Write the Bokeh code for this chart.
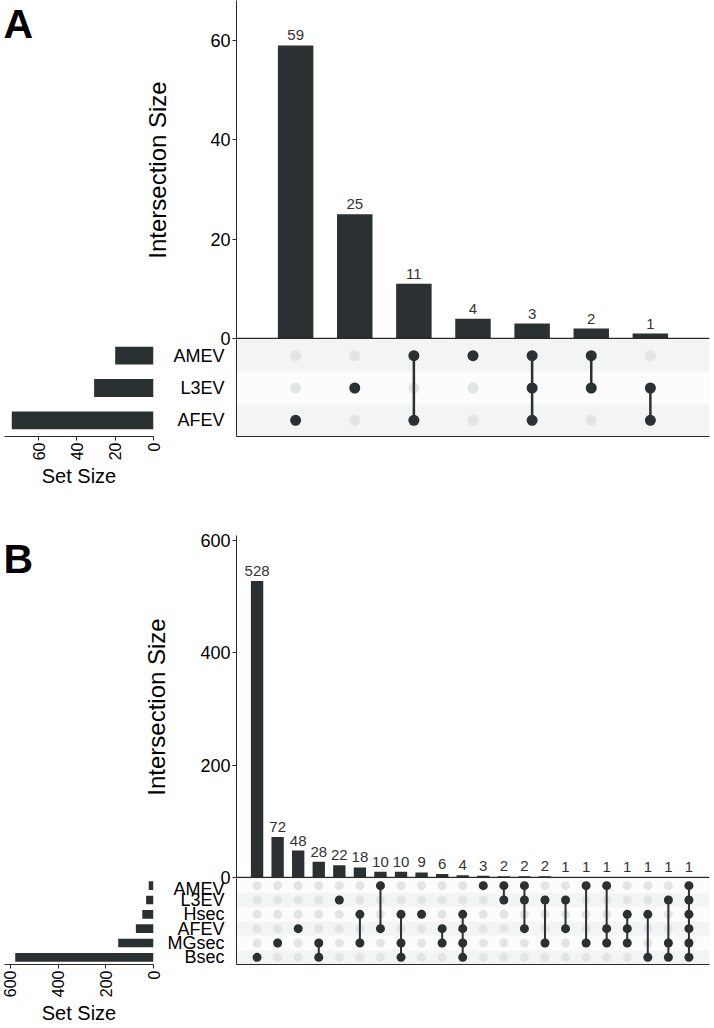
import math
from bokeh.plotting import figure
from bokeh.layouts import row, column
from bokeh.models import Range1d, Span, FixedTicker
from bokeh.core.properties import value
from bokeh.embed import file_html
from bokeh.resources import INLINE

# ---------------- data ----------------
A_sets = ["AMEV", "L3EV", "AFEV"]                 # top to bottom
A_set_sizes = [20, 31, 74]
A_counts = [59, 25, 11, 4, 3, 2, 1]
A_members = [["AFEV"], ["L3EV"], ["AMEV", "AFEV"], ["AMEV"],
             ["AMEV", "L3EV", "AFEV"], ["AMEV", "L3EV"], ["L3EV", "AFEV"]]
A_yticks = [0, 20, 40, 60]
A_setticks = [0, 20, 40, 60]

B_sets = ["AMEV", "L3EV", "Hsec", "AFEV", "MGsec", "Bsec"]
B_set_sizes = [20, 31, 47, 74, 148, 580]
B_counts = [528, 72, 48, 28, 22, 18, 10, 10, 9, 6, 4, 3, 2, 2, 2, 1, 1, 1, 1, 1, 1, 1]
B_members = [["Bsec"], ["MGsec"], ["AFEV"], ["MGsec", "Bsec"], ["L3EV"],
             ["Hsec", "MGsec"], ["AMEV", "AFEV"], ["Hsec", "MGsec", "Bsec"], ["Hsec"],
             ["AFEV", "MGsec"], ["Hsec", "AFEV", "MGsec", "Bsec"], ["AMEV"],
             ["AMEV", "L3EV"], ["AMEV", "L3EV", "AFEV"], ["L3EV", "MGsec"],
             ["L3EV", "AFEV"], ["AMEV", "MGsec"], ["AMEV", "AFEV", "MGsec"],
             ["Hsec", "AFEV", "MGsec"], ["Hsec", "Bsec"], ["L3EV", "MGsec", "Bsec"],
             ["AMEV", "L3EV", "Hsec", "AFEV", "MGsec", "Bsec"]]
B_yticks = [0, 200, 400, 600]
B_setticks = [0, 200, 400, 600]

# ---------------- style ----------------
FONT = "Liberation Sans"
DARK = "#2b3033"
AXIS = "#2a2a2a"
GRAYDOT = "#e2e5e5"
STRIPE = "#f3f4f4"
STRIPE2 = "#fcfcfc"
OVERLAP = 10


def base_fig(w, h, xr, yr, **kw):
    opts = dict(min_border_left=0, min_border_right=0, min_border_top=0, min_border_bottom=0)
    opts.update(kw)
    p = figure(width=w, height=h, x_range=xr, y_range=yr, output_backend="svg",
               toolbar_location=None, tools="", **opts)
    p.outline_line_color = None
    p.background_fill_color = "white"
    p.border_fill_color = "white"
    for g in p.grid:
        g.visible = False
    return p


def letter_fig(letter, h, top):
    p = base_fig(60, h, Range1d(0, 1), Range1d(0, 1), x_axis_location=None,
                 y_axis_location=None, min_border_top=top)
    p.background_fill_color = None
    p.border_fill_color = None
    p.text(x=[0], y=[1], text=[letter], text_font=value(FONT), text_font_style="bold",
           text_font_size="41px", text_baseline="top", text_align="left",
           x_offset=3, text_color="black")
    return p


def bars_fig(counts, h, top_border, y_start, y_end, ticks, xr, label_standoff):
    p = base_fig(652, h, xr, Range1d(y_start, y_end), x_axis_location=None,
                 min_border_left=176, min_border_right=3, min_border_top=top_border,
                 min_border_bottom=OVERLAP)
    cols = list(range(1, len(counts) + 1))
    p.vbar(x=cols, top=counts, bottom=0, width=0.6, color=DARK, line_color=None)
    p.text(x=cols, y=counts, text=[str(c) for c in counts], text_font=value(FONT),
           text_font_size="15px", text_align="center", text_baseline="alphabetic",
           y_offset=-10, text_color="#333333")
    p.add_layout(Span(location=0, dimension="width", line_color=AXIS, line_width=1.5))
    ax = p.yaxis[0]
    ax.ticker = FixedTicker(ticks=ticks)
    ax.axis_label = "Intersection Size"
    ax.axis_label_text_font = FONT
    ax.axis_label_text_font_style = "normal"
    ax.axis_label_text_font_size = "24px"
    ax.axis_label_text_color = "black"
    ax.axis_label_standoff = label_standoff
    ax.major_label_text_font = FONT
    ax.major_label_text_font_size = "18px"
    ax.major_label_text_color = "black"
    ax.major_label_standoff = 2
    ax.major_tick_out = 4
    ax.major_tick_in = 0
    ax.minor_tick_line_color = None
    ax.axis_line_color = AXIS
    ax.major_tick_line_color = AXIS
    return p


def matrix_fig(sets, members, h, bottom_border, xr, yr, dot, lw):
    n = len(sets)
    m = base_fig(559, h, xr, yr, min_border_left=83, min_border_right=3,
                 min_border_bottom=bottom_border, margin=(0, 0, 0, -OVERLAP))
    m.border_fill_color = None
    rows = {s: n - i for i, s in enumerate(sets)}
    # stripes
    shaded = [r for r in range(1, n + 1) if r % 2 == 1]
    light = [r for r in range(1, n + 1) if r % 2 == 0]
    m.hbar(y=shaded, left=xr.start, right=xr.end, height=1, color=STRIPE, line_color=None)
    m.hbar(y=light, left=xr.start, right=xr.end, height=1, color=STRIPE2, line_color=None)
    # gray dots
    gx, gy = [], []
    for c in range(1, len(members) + 1):
        for r in range(1, n + 1):
            gx.append(c)
            gy.append(r)
    m.scatter(x=gx, y=gy, size=dot, color=GRAYDOT, line_color=None)
    # connecting segments and member dots
    sx0, sy0, sy1 = [], [], []
    fx, fy = [], []
    for c, mem in enumerate(members, start=1):
        rr = [rows[s] for s in mem]
        for r in rr:
            fx.append(c)
            fy.append(r)
        if len(rr) > 1:
            sx0.append(c)
            sy0.append(min(rr))
            sy1.append(max(rr))
    m.segment(x0=sx0, y0=sy0, x1=sx0, y1=sy1, line_width=lw, line_color=DARK)
    m.scatter(x=fx, y=fy, size=dot, color=DARK, line_color=None)
    # axes
    ya = m.yaxis[0]
    ya.ticker = FixedTicker(ticks=list(range(1, n + 1)))
    ya.major_label_overrides = {n - i: s for i, s in enumerate(sets)}
    ya.major_label_text_font = FONT
    ya.major_label_text_font_size = "18px"
    ya.major_label_text_color = "black"
    ya.major_label_standoff = 6
    ya.major_tick_line_color = None
    ya.minor_tick_line_color = None
    ya.axis_line_color = AXIS
    xa = m.xaxis[0]
    xa.ticker = FixedTicker(ticks=[])
    xa.major_tick_line_color = None
    xa.minor_tick_line_color = None
    xa.major_label_standoff = 0
    xa.axis_line_color = AXIS
    return m


def sets_fig(sets, sizes, h, bottom_border, xmax, ticks, yr, bar_h):
    n = len(sets)
    s = base_fig(153 + OVERLAP, h, Range1d(xmax, 0), yr, y_axis_location=None,
                 min_border_left=4, min_border_right=OVERLAP,
                 min_border_bottom=bottom_border)
    s.border_fill_color = None
    rows = [n - i for i in range(n)]
    s.hbar(y=rows, left=0, right=sizes, height=bar_h, color=DARK, line_color=None)
    xa = s.xaxis[0]
    xa.ticker = FixedTicker(ticks=ticks)
    xa.major_label_orientation = math.pi / 2
    xa.major_label_text_font = FONT
    xa.major_label_text_font_size = "16px"
    xa.major_label_text_color = "black"
    xa.major_label_standoff = 2
    xa.major_tick_out = 4
    xa.major_tick_in = 0
    xa.minor_tick_line_color = None
    xa.axis_line_color = AXIS
    xa.major_tick_line_color = AXIS
    xa.axis_label = "Set Size"
    xa.axis_label_text_font = FONT
    xa.axis_label_text_font_style = "normal"
    xa.axis_label_text_font_size = "20px"
    xa.axis_label_text_color = "black"
    xa.axis_label_standoff = 2
    return s


# ---------------- panel A ----------------
xrA = Range1d(0, len(A_counts) + 1)
yrA = Range1d(0.5, len(A_sets) + 0.5)
A_letter = letter_fig("A", 349, 0)
A_bars = bars_fig(A_counts, 349, 0, -0.2, 68.05, A_yticks, xrA, 36)
A_sets_p = sets_fig(A_sets, A_set_sizes, 151, 50, 77.8, A_setticks, yrA, 0.55)
A_matrix = matrix_fig(A_sets, A_members, 151, 50, xrA, yrA, 11, 2.5)

# ---------------- panel B ----------------
xrB = Range1d(0, len(B_counts) + 1)
yrB = Range1d(0.5, len(B_sets) + 0.5)
B_letter = letter_fig("B", 398, 32)
B_bars = bars_fig(B_counts, 398, 45, -1.8, 608.8, B_yticks, xrB, 27)
B_sets_p = sets_fig(B_sets, B_set_sizes, 149, 58, 625, B_setticks, yrB, 0.6)
B_matrix = matrix_fig(B_sets, B_members, 149, 58, xrB, yrB, 9, 2)

layout = column(
    row(A_letter, A_bars, spacing=0),
    row(A_sets_p, A_matrix, spacing=0, margin=(-OVERLAP, 0, 0, 0)),
    row(B_letter, B_bars, spacing=0),
    row(B_sets_p, B_matrix, spacing=0, margin=(-OVERLAP, 0, 0, 0)),
    spacing=0,
)

open("out.html", "w").write(file_html(layout, INLINE))
